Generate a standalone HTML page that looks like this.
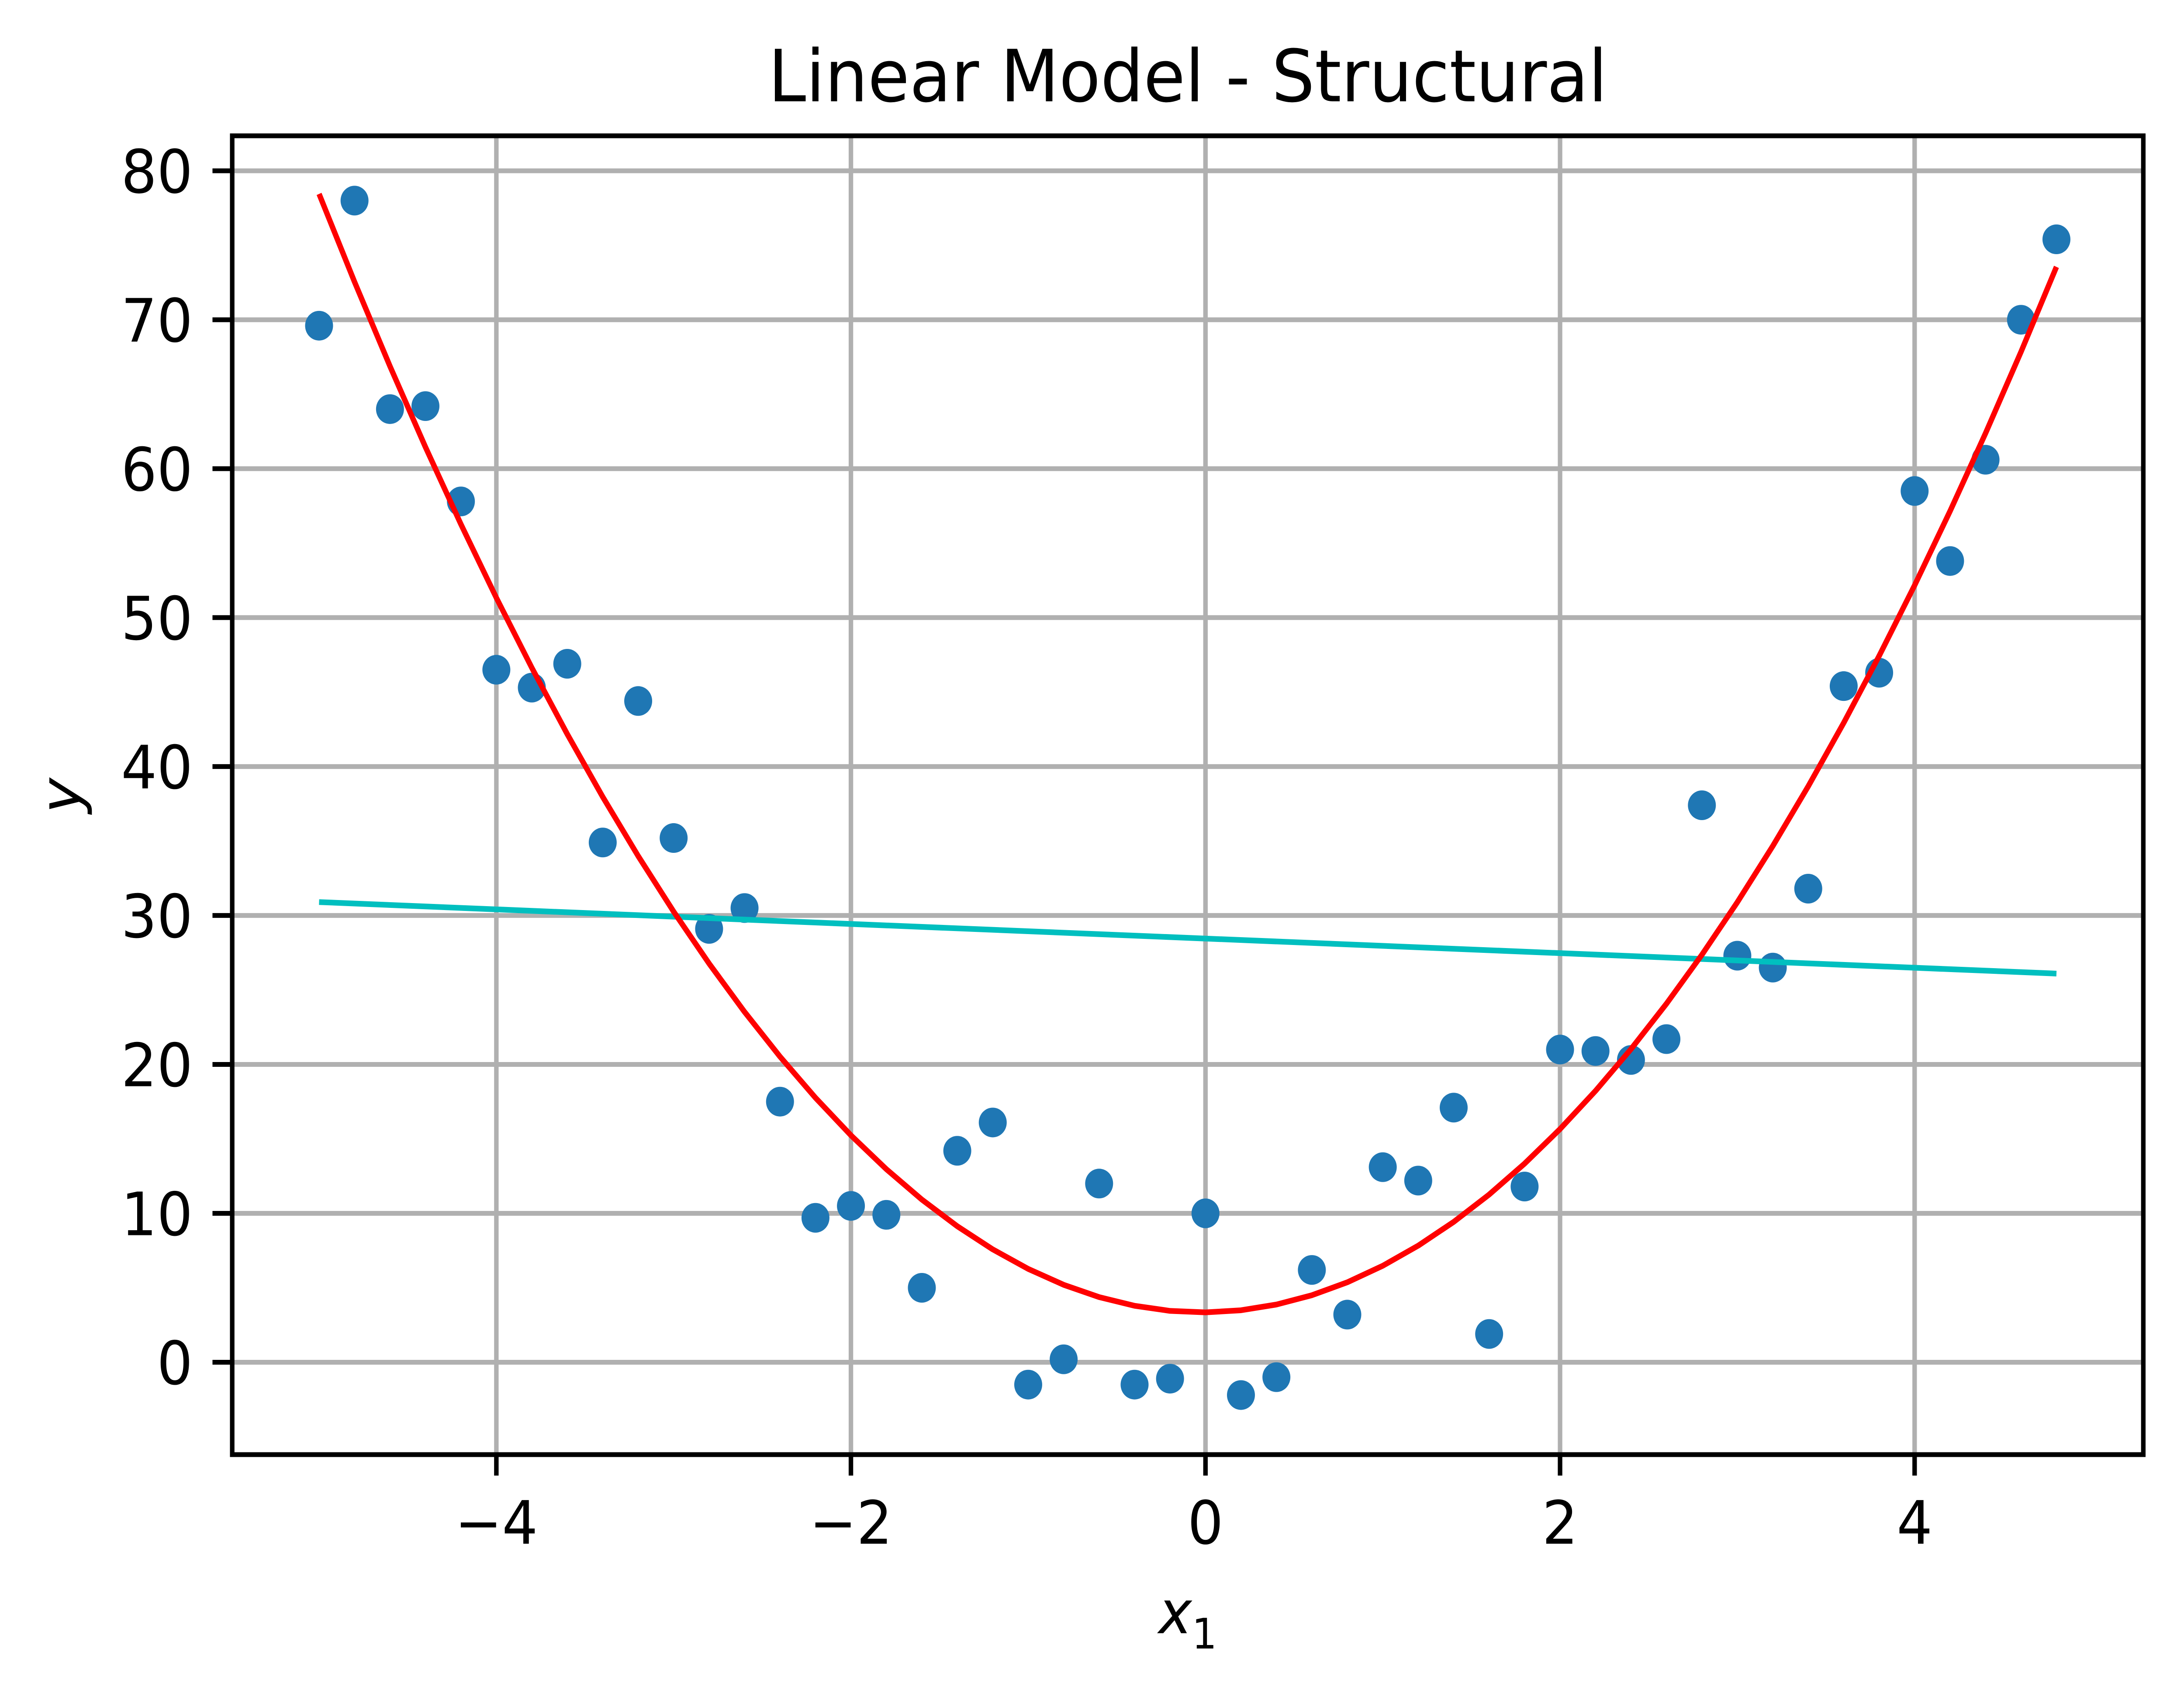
<!DOCTYPE html>
<html><head><meta charset="utf-8"><style>html,body{margin:0;padding:0;background:#fff;width:100%;height:100%;overflow:hidden}svg{display:block;width:100vw;height:100vh}</style></head>
<body>
<svg id="chart" viewBox="0 0 5314 3854" preserveAspectRatio="none" xmlns="http://www.w3.org/2000/svg" font-family="'DejaVu Sans','Liberation Sans',sans-serif">
<rect width="5314" height="3854" fill="#fff"/>
<text x="2890" y="232" font-size="165" text-anchor="middle">Linear Model - Structural</text>
<g id="grid"></g>
<g id="marks"></g>
<rect x="565" y="311" width="4650" height="3020" fill="none" stroke="#000" stroke-width="11"/>
<g id="ticks"></g>
<text x="2890" y="3740" font-size="137" text-anchor="middle" font-style="italic">x<tspan font-size="96" dy="35" font-style="normal">1</tspan></text>
<text x="0" y="0" font-size="137" text-anchor="middle" font-style="italic" transform="translate(195,1822) rotate(-90)">y</text>
</svg>
<script>
const xData = [-5,-4.8,-4.6,-4.4,-4.2,-4,-3.8,-3.6,-3.4,-3.2,-3,-2.8,-2.6,-2.4,-2.2,-2,-1.8,-1.6,-1.4,-1.2,-1,-0.8,-0.6,-0.4,-0.2,0,0.2,0.4,0.6,0.8,1,1.2,1.4,1.6,1.8,2,2.2,2.4,2.6,2.8,3,3.2,3.4,3.6,3.8,4,4.2,4.4,4.6,4.8];
const yData = [69.6,78,64,64.2,57.8,46.5,45.3,46.9,34.9,44.4,35.2,29.1,30.5,17.5,9.7,10.5,9.9,5.0,14.2,16.1,-1.5,0.2,12.0,-1.5,-1.1,10,-2.2,-1.0,6.2,3.2,13.1,12.2,17.1,1.9,11.8,21,20.9,20.3,21.7,37.4,27.3,26.5,31.8,45.4,46.3,58.5,53.8,60.6,70,75.4];
const quadCoef = [3.025, 0.105, 3.35];
const linCoef = [-0.49, 28.45];
const xTicks = [-4,-2,0,2,4];
const xTickLabels = ["\u22124","\u22122","0","2","4"];
const yTicks = [0,10,20,30,40,50,60,70,80];
const yTickLabels = ["0","10","20","30","40","50","60","70","80"];

const NS = "http://www.w3.org/2000/svg";
const X0 = 565, X1 = 5215, Y0 = 311, Y1 = 3331;
const xMin = -5.49, xMax = 5.29, yMin = -6.2, yMax = 82.35;
function sx(v){ return X0 + (v - xMin) / (xMax - xMin) * (X1 - X0); }
function sy(v){ return Y1 - (v - yMin) / (yMax - yMin) * (Y1 - Y0); }
function mk(tag, attrs, parent){ const e = document.createElementNS(NS, tag); for (const k in attrs) e.setAttribute(k, attrs[k]); parent.appendChild(e); return e; }

const grid = document.getElementById('grid');
const ticks = document.getElementById('ticks');
const marks = document.getElementById('marks');

xTicks.forEach((t, i) => {
  const g = mk('line', {x1: sx(t), x2: sx(t), y1: Y0, y2: Y1, stroke: '#b0b0b0', 'stroke-width': 11}, grid);
  
  
  const tk = mk('line', {x1: sx(t), x2: sx(t), y1: Y1, y2: Y1 + 48, stroke: '#000', 'stroke-width': 11}, ticks);
  
  
  const tx = mk('text', {x: sx(t), y: 3535, 'font-size': 137, 'text-anchor': 'middle'}, ticks);
  tx.textContent = xTickLabels[i];
  
  
});
yTicks.forEach((t, i) => {
  const g = mk('line', {x1: X0, x2: X1, y1: sy(t), y2: sy(t), stroke: '#b0b0b0', 'stroke-width': 11}, grid);
  
  
  const tk = mk('line', {x1: X0 - 48, x2: X0, y1: sy(t), y2: sy(t), stroke: '#000', 'stroke-width': 11}, ticks);
  
  
  const tx = mk('text', {x: 469, y: sy(t) + 50, 'font-size': 137, 'text-anchor': 'end'}, ticks);
  tx.textContent = yTickLabels[i];
  
  
});

xData.forEach((x, i) => {
  const c = mk('circle', {cx: sx(x), cy: sy(yData[i]), r: 34, fill: '#1f77b4'}, marks);
  
  
});

const linPts = [xData[0], xData[xData.length - 1]].map(x => sx(x) + ',' + sy(linCoef[0] * x + linCoef[1])).join(' ');
const lin = mk('polyline', {points: linPts, fill: 'none', stroke: '#00bfbf', 'stroke-width': 13}, marks);



const quadPts = xData.map(x => sx(x) + ',' + sy(quadCoef[0] * x * x + quadCoef[1] * x + quadCoef[2])).join(' ');
const quad = mk('polyline', {points: quadPts, fill: 'none', stroke: '#ff0000', 'stroke-width': 13, 'stroke-linejoin': 'round'}, marks);


</script>
</body></html>
